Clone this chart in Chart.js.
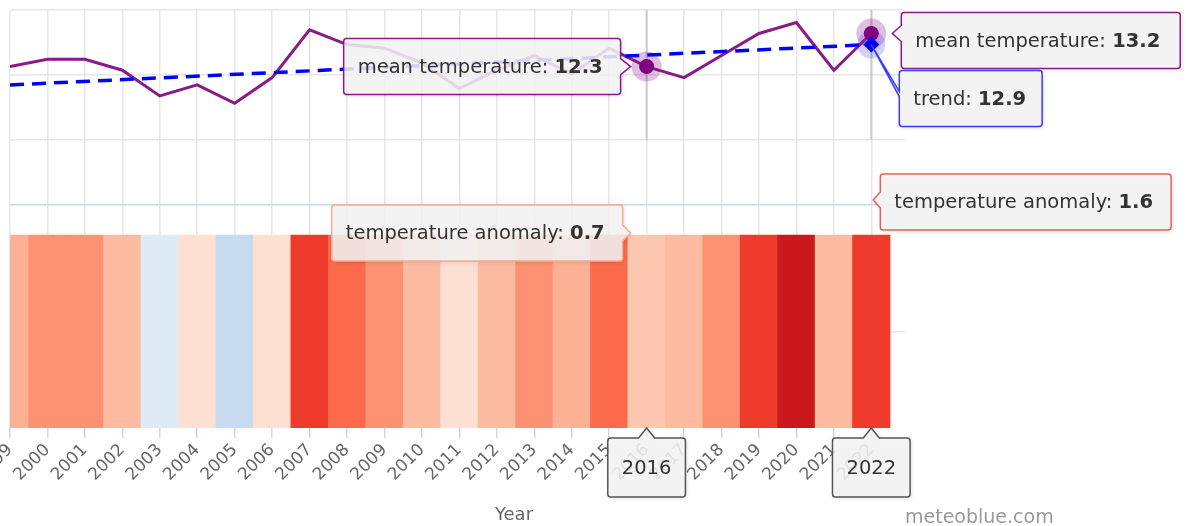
<!DOCTYPE html>
<html>
<head>
<meta charset="utf-8">
<script src="https://cdn.jsdelivr.net/npm/chart.js@4.4.0/dist/chart.umd.min.js"></script>
<style>
  html, body { margin: 0; padding: 0; background: #fff; }
  #wrap { position: relative; width: 1186px; height: 526px; }
</style>
</head>
<body>
<div id="wrap"><canvas id="chart" width="1186" height="526"></canvas></div>
<script>
// data
const years = [1999, 2000, 2001, 2002, 2003, 2004, 2005, 2006, 2007, 2008, 2009, 2010,
               2011, 2012, 2013, 2014, 2015, 2016, 2017, 2018, 2019, 2020, 2021, 2022];
const meanTemperature = [12.3, 12.5, 12.5, 12.2, 11.5, 11.8, 11.3, 12.0, 13.3, 12.9, 12.8, 12.4,
                         11.7, 12.2, 12.6, 12.1, 12.8, 12.3, 12.0, 12.6, 13.2, 13.5, 12.2, 13.2];
const temperatureAnomaly = [0.95, 1.1, 1.1, 0.9, -0.1, 0.2, -0.4, 0.2, 1.6, 1.35, 1.1, 0.9,
                            0.2, 0.9, 1.1, 0.95, 1.35, 0.7, 0.9, 1.1, 1.6, 2.0, 0.9, 1.6];
const trendYears = [1999, 2022];
const trendValues = [11.8, 12.9];
const highlightYears = [2016, 2022];   // points with a tooltip open
const stripeHeight = 1;
const tempGridTicks = [10.3, 12.07, 13.84];

// colour scale of the stripes (anomaly -> colour)
const anomalyStops = [
  [-0.4, '#c6dbef'], [-0.1, '#deebf7'], [0.2, '#fee0d2'], [0.9, '#fcbba1'],
  [1.1, '#fc9272'], [1.35, '#fb6a4a'], [1.6, '#ef3b2c'], [2.0, '#cb181d']
];

function hexToRgb(h) {
  return [parseInt(h.substr(1, 2), 16), parseInt(h.substr(3, 2), 16), parseInt(h.substr(5, 2), 16)];
}
function stripeColor(v) {
  if (v <= anomalyStops[0][0]) return anomalyStops[0][1];
  for (let i = 1; i < anomalyStops.length; i++) {
    if (v <= anomalyStops[i][0]) {
      const a = anomalyStops[i - 1], b = anomalyStops[i];
      const t = (v - a[0]) / (b[0] - a[0]);
      const ca = hexToRgb(a[1]), cb = hexToRgb(b[1]);
      const c = ca.map((x, k) => Math.round(x + (cb[k] - x) * t));
      return 'rgb(' + c.join(',') + ')';
    }
  }
  return anomalyStops[anomalyStops.length - 1][1];
}

const FONT = '"DejaVu Sans", sans-serif';
const TIP_SIZE = '19.5px ';
Chart.defaults.font.family = FONT;

// tooltip box with a pointer, Highcharts style
function calloutPath(ctx, x, y, w, h, r, chev) {
  ctx.beginPath();
  ctx.moveTo(x + r, y);
  if (chev && chev.side === 'top') {
    ctx.lineTo(chev.a, y); ctx.lineTo(chev.tx, chev.ty); ctx.lineTo(chev.b, y);
  }
  ctx.lineTo(x + w - r, y);
  ctx.arcTo(x + w, y, x + w, y + r, r);
  if (chev && chev.side === 'right') {
    ctx.lineTo(x + w, chev.a); ctx.lineTo(chev.tx, chev.ty); ctx.lineTo(x + w, chev.b);
  }
  ctx.lineTo(x + w, y + h - r);
  ctx.arcTo(x + w, y + h, x + w - r, y + h, r);
  ctx.lineTo(x + r, y + h);
  ctx.arcTo(x, y + h, x, y + h - r, r);
  if (chev && chev.side === 'left') {
    ctx.lineTo(x, chev.b); ctx.lineTo(chev.tx, chev.ty); ctx.lineTo(x, chev.a);
  }
  ctx.lineTo(x, y + r);
  ctx.arcTo(x, y, x + r, y, r);
  ctx.closePath();
}

function measureParts(ctx, parts) {
  let w = 0;
  parts.forEach(p => {
    ctx.font = (p.bold ? 'bold ' : '') + TIP_SIZE + FONT;
    w += ctx.measureText(p.text).width;
  });
  return w;
}

function drawCallout(ctx, box, parts, border, chev, center) {
  ctx.save();
  calloutPath(ctx, box.x, box.y, box.w, box.h, 3, chev);
  ctx.shadowColor = 'rgba(0,0,0,0.18)';
  ctx.shadowBlur = 4;
  ctx.shadowOffsetX = 1;
  ctx.shadowOffsetY = 1;
  ctx.fillStyle = 'rgba(247,247,247,0.85)';
  ctx.fill();
  ctx.shadowColor = 'transparent';
  ctx.lineWidth = 1.5;
  ctx.strokeStyle = border;
  ctx.stroke();
  ctx.fillStyle = '#333333';
  ctx.textBaseline = 'middle';
  const tw = measureParts(ctx, parts);
  let tx = center ? box.x + (box.w - tw) / 2 : box.x + 14;
  const ty = box.y + box.h / 2 + 1;
  parts.forEach(p => {
    ctx.font = (p.bold ? 'bold ' : '') + TIP_SIZE + FONT;
    ctx.fillText(p.text, tx, ty);
    tx += ctx.measureText(p.text).width;
  });
  ctx.restore();
}

const overlayPlugin = {
  id: 'overlay',
  beforeDatasetsDraw(chart) {
    const ctx = chart.ctx;
    const xs = chart.scales.x;
    const paneBottom = chart.scales.y.getPixelForValue(tempGridTicks[0]);
    const meanMeta = chart.getDatasetMeta(1);
    const trendMeta = chart.getDatasetMeta(0);
    ctx.save();
    // crosshairs
    highlightYears.forEach(yr => {
      const px = xs.getPixelForValue(yr);
      ctx.strokeStyle = 'rgba(200,200,200,0.9)';
      ctx.lineWidth = 2;
      ctx.beginPath();
      ctx.moveTo(px, chart.chartArea.top);
      ctx.lineTo(px, paneBottom);
      ctx.stroke();
    });
    // halos
    highlightYears.forEach(yr => {
      const p = meanMeta.data[years.indexOf(yr)];
      ctx.fillStyle = 'rgba(128,0,128,0.25)';
      ctx.beginPath(); ctx.arc(p.x, p.y, 15, 0, Math.PI * 2); ctx.fill();
    });
    const tIdx = trendYears.indexOf(2022);
    const d = trendMeta.data[tIdx];
    ctx.fillStyle = 'rgba(0,0,255,0.18)';
    ctx.beginPath(); ctx.arc(d.x, d.y, 14, 0, Math.PI * 2); ctx.fill();
    ctx.restore();
  },
  afterDraw(chart) {
    const ctx = chart.ctx;
    const area = chart.chartArea;
    const xs = chart.scales.x;
    const barMeta = chart.getDatasetMeta(2);
    const meanMeta = chart.getDatasetMeta(1);
    const trendMeta = chart.getDatasetMeta(0);
    const h = 56;

    // mean temperature 2016 (box left of the point)
    let i = years.indexOf(2016);
    let A = meanMeta.data[i];
    let parts = [{ text: 'mean temperature: ' }, { text: meanTemperature[i].toFixed(1), bold: true }];
    let w = measureParts(ctx, parts) + 32;
    let box = { x: A.x - 26 - w, y: A.y - h / 2, w: w, h: h };
    drawCallout(ctx, box, parts, '#8b1a89',
      { side: 'right', a: A.y - 8, b: A.y + 8, tx: A.x - 16, ty: A.y });

    // temperature anomaly 2016
    let B = barMeta.data[i];
    parts = [{ text: 'temperature anomaly: ' }, { text: temperatureAnomaly[i].toFixed(1), bold: true }];
    w = measureParts(ctx, parts) + 32;
    box = { x: B.x - 24 - w, y: B.y - 2 - h / 2, w: w, h: h };
    drawCallout(ctx, box, parts, '#f7ab92',
      { side: 'right', a: B.y - 10, b: B.y + 6, tx: B.x - 16, ty: B.y - 2 });

    // mean temperature 2022 (box right of the point)
    i = years.indexOf(2022);
    A = meanMeta.data[i];
    parts = [{ text: 'mean temperature: ' }, { text: meanTemperature[i].toFixed(1), bold: true }];
    w = measureParts(ctx, parts) + 34;
    box = { x: A.x + 30, y: A.y + 7 - h / 2, w: w, h: h };
    drawCallout(ctx, box, parts, '#8b1a89',
      { side: 'left', a: A.y - 8, b: A.y + 8, tx: A.x + 21, ty: A.y });

    // trend 2022
    const ti = trendYears.indexOf(2022);
    const D = trendMeta.data[ti];
    parts = [{ text: 'trend: ' }, { text: trendValues[ti].toFixed(1), bold: true }];
    w = measureParts(ctx, parts) + 30;
    box = { x: D.x + 28, y: D.y + 26, w: w, h: h };
    drawCallout(ctx, box, parts, '#3b3bff',
      { side: 'left', a: box.y + 21, b: box.y + 26, tx: D.x, ty: D.y });

    // temperature anomaly 2022
    B = barMeta.data[i];
    parts = [{ text: 'temperature anomaly: ' }, { text: temperatureAnomaly[i].toFixed(1), bold: true }];
    w = measureParts(ctx, parts) + 32;
    box = { x: B.x + 9, y: B.y - 33 - h / 2, w: w, h: h };
    drawCallout(ctx, box, parts, '#e8605a',
      { side: 'left', a: B.y - 43, b: B.y - 27, tx: B.x + 2, ty: B.y - 35 });

    // x-axis crosshair labels
    highlightYears.forEach(yr => {
      const px = xs.getPixelForValue(yr);
      const p = [{ text: String(yr) }];
      const bw = measureParts(ctx, p) + 28;
      const b = { x: px - bw / 2, y: area.bottom + 10, w: bw, h: 59 };
      drawCallout(ctx, b, p, '#555555',
        { side: 'top', a: px - 8, b: px + 8, tx: px, ty: area.bottom }, true);
    });

    // axis title and credits
    ctx.save();
    ctx.fillStyle = '#666666';
    ctx.font = '18px ' + FONT;
    ctx.textAlign = 'center';
    ctx.textBaseline = 'middle';
    ctx.fillText('Year', 514, 515);
    ctx.fillStyle = '#999999';
    ctx.font = '19px ' + FONT;
    ctx.textAlign = 'left';
    ctx.fillText('meteoblue.com', 905, 518);
    ctx.restore();
  }
};

const ctxEl = document.getElementById('chart');
new Chart(ctxEl, {
  data: {
    datasets: [
      {
        type: 'line',
        label: 'trend',
        data: trendYears.map((yr, k) => ({ x: yr, y: trendValues[k] })),
        yAxisID: 'y',
        borderColor: '#0000ff',
        backgroundColor: '#0000ff',
        borderWidth: 3.5,
        borderDash: [14, 8],
        pointStyle: 'rectRot',
        pointRadius: c => (highlightYears.includes(trendYears[c.dataIndex]) ? 8 : 0),
        pointBorderWidth: 0,
        order: 0
      },
      {
        type: 'line',
        label: 'mean temperature',
        data: years.map((yr, k) => ({ x: yr, y: meanTemperature[k] })),
        yAxisID: 'y',
        borderColor: '#8b1a89',
        backgroundColor: '#800080',
        borderWidth: 3,
        tension: 0,
        pointRadius: c => (highlightYears.includes(years[c.dataIndex]) ? 7.5 : 0),
        pointBorderWidth: 0,
        order: 1
      },
      {
        type: 'bar',
        label: 'temperature anomaly',
        data: years.map(yr => ({ x: yr, y: stripeHeight })),
        yAxisID: 'y2',
        backgroundColor: temperatureAnomaly.map(stripeColor),
        borderWidth: 0,
        barPercentage: 1,
        categoryPercentage: 1,
        clip: 0,
        order: 2
      }
    ]
  },
  options: {
    responsive: false,
    animation: false,
    events: [],
    layout: { padding: { left: 10, right: 281, top: 10, bottom: 0 } },
    plugins: { legend: { display: false }, tooltip: { enabled: false } },
    scales: {
      x: {
        type: 'linear',
        offset: false,
        min: 1999,
        max: 2022.9,
        afterBuildTicks: s => { s.ticks = years.map(v => ({ value: v })); },
        afterFit: s => { s.paddingLeft = 0; s.paddingRight = 0; s.height = 98; },
        border: { display: false },
        grid: { color: '#e6e6e6', tickColor: '#ccd6eb', tickLength: 10, lineWidth: 1.5, offset: false },
        ticks: {
          autoSkip: false,
          maxRotation: 45,
          minRotation: 45,
          padding: 2,
          color: '#666666',
          font: { size: 17 },
          callback: v => String(v)
        }
      },
      y: {
        position: 'left',
        min: 2.46,
        max: 13.84,
        afterBuildTicks: s => { s.ticks = tempGridTicks.map(v => ({ value: v })); },
        border: { display: false },
        grid: { color: '#e6e6e6', drawTicks: false, lineWidth: 1.5 },
        ticks: { display: false }
      },
      y2: {
        position: 'left',
        min: 0,
        max: 2.166,
        afterBuildTicks: s => { s.ticks = [{ value: 0.5 }, { value: 1.155 }]; },
        border: { display: false },
        grid: {
          color: c => (c.tick && c.tick.value > 1 ? '#ccd6eb' : '#e6e6e6'),
          drawTicks: false,
          lineWidth: 1.5
        },
        ticks: { display: false }
      }
    }
  },
  plugins: [overlayPlugin]
});
</script>
</body>
</html>
